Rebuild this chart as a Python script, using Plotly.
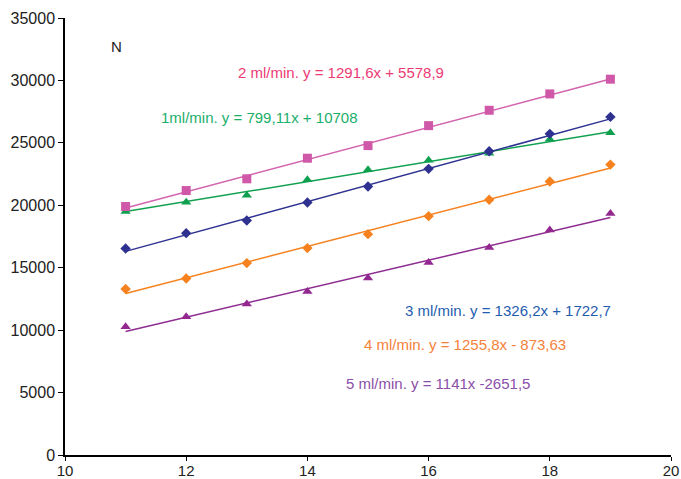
import numpy as np
import plotly.graph_objects as go

x_vals = [11, 12, 13, 14, 15, 16, 17, 18, 19]

series_names = ["1 ml/min", "2 ml/min", "3 ml/min", "4 ml/min", "5 ml/min"]
y_1ml = [19500, 20250, 20810, 22040, 22840, 23610, 24170, 25290, 25800]
y_2ml = [19900, 21180, 22120, 23770, 24780, 26380, 27610, 28920, 30100]
y_3ml = [16540, 17770, 18780, 20220, 21500, 22920, 24330, 25720, 27080]
y_4ml = [13290, 14140, 15370, 16570, 17690, 19130, 20440, 21900, 23260]
y_5ml = [10270, 11070, 12090, 13100, 14170, 15420, 16620, 18030, 19340]

slopes = [799.11, 1291.6, 1326.2, 1255.8, 1141.0]
intercepts = [10708, 5578.9, 1722.7, -873.63, -2651.5]
eq_labels = [
    "1ml/min. y = 799,11x + 10708",
    "2 ml/min. y = 1291,6x + 5578,9",
    "3 ml/min. y = 1326,2x + 1722,7",
    "4 ml/min. y = 1255,8x - 873,63",
    "5 ml/min. y = 1141x -2651,5",
]

x_ticks = [10, 12, 14, 16, 18, 20]
x_tick_text = ["10", "12", "14", "16", "18", "20"]
y_ticks = [0, 5000, 10000, 15000, 20000, 25000, 30000, 35000]
y_tick_text = ["0", "5000", "10000", "15000", "20000", "25000", "30000", "35000"]

all_y = [y_1ml, y_2ml, y_3ml, y_4ml, y_5ml]
line_colors = ["#12A150", "#D263AE", "#2E3190", "#F5821F", "#8E2C92"]
marker_colors = ["#0FA04F", "#D058A8", "#2E3190", "#F5821F", "#932890"]
symbols = ["triangle-up", "square", "diamond", "diamond", "triangle-up"]
msizes = [9, 9, 8, 8, 9]
text_colors = ["#1BAE6A", "#EC3A74", "#1F5DAE", "#F5823A", "#8B4FA9"]
# label positions (data coords of left edge)
label_pos = [(11.55, 27000), (12.82, 30600), (15.57, 11550), (14.9, 8850), (14.6, 5750)]

fig = go.Figure()
xs = np.array([min(x_vals), max(x_vals)], dtype=float)
for i in range(5):
    fig.add_trace(go.Scatter(
        x=xs, y=slopes[i] * xs + intercepts[i], mode="lines",
        line=dict(color=line_colors[i], width=1.5), showlegend=False, hoverinfo="skip"))
for i in range(5):
    fig.add_trace(go.Scatter(
        x=x_vals, y=all_y[i], mode="markers", name=series_names[i],
        marker=dict(symbol=symbols[i], size=msizes[i], color=marker_colors[i],
                    line=dict(width=0)), showlegend=False))

for i in range(5):
    fig.add_annotation(x=label_pos[i][0], y=label_pos[i][1], text=eq_labels[i],
                       xref="x", yref="y", xanchor="left", yanchor="middle",
                       showarrow=False, font=dict(size=15, color=text_colors[i]))

fig.add_annotation(x=10.85, y=32700, text="N", xref="x", yref="y", showarrow=False,
                   xanchor="center", yanchor="middle", font=dict(size=15, color="#222222"))
fig.add_annotation(x=19.62, y=-1000, text="n<sub>c</sub>", xref="x", yref="y", showarrow=False,
                   xanchor="center", yanchor="middle", font=dict(size=15, color="#222222"))

tick_font = dict(family="Liberation Sans, Arial, sans-serif", size=16, color="#222222")
xtick_font = dict(family="Liberation Sans, Arial, sans-serif", size=15, color="#222222")

fig.update_layout(
    width=681, height=479,
    margin=dict(l=65, r=10, t=18, b=24, autoexpand=False),
    paper_bgcolor="white", plot_bgcolor="white",
    font=dict(family="Liberation Sans, Arial, sans-serif", size=15, color="#222222"),
    xaxis=dict(range=[10, 20], tickvals=x_ticks, ticktext=x_tick_text, ticks="outside",
               ticklen=4, tickwidth=1.2, tickfont=xtick_font, automargin=False,
               ticklabelstandoff=-3,
               tickcolor="black", showline=True, linecolor="black", linewidth=1.5,
               showgrid=False, zeroline=False, fixedrange=True),
    yaxis=dict(range=[0, 35000], tickvals=y_ticks, ticktext=y_tick_text, ticks="outside",
               ticklen=5, tickwidth=1.2, tickfont=tick_font, automargin=False,
               tickcolor="black", showline=True, linecolor="black", linewidth=1.5,
               showgrid=False, zeroline=False, fixedrange=True),
)

fig.write_html("out.html")
